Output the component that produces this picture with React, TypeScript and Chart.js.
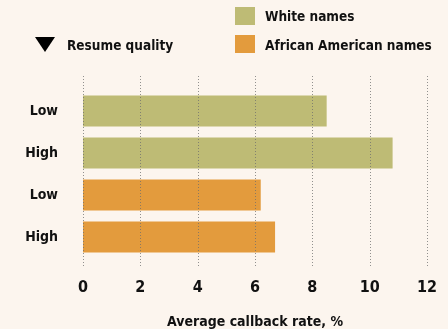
import React, { useEffect, useRef } from "react";
import { Chart, registerables } from "chart.js";

Chart.register(...registerables);

const categories = ["Low", "High", "Low", "High"];
const groups = ["White names", "White names", "African American names", "African American names"];
const callbackRates = [8.5, 10.8, 6.2, 6.7];
const xTicks = [0, 2, 4, 6, 8, 10, 12];
const legendItems = ["White names", "African American names"];
const legendMarker = "Resume quality";
const xTitle = "Average callback rate, %";

const WHITE = "#bebb75";
const ORANGE = "#e39b3d";
const BG = "#fcf5ee";
const FONT = "'DejaVu Sans Condensed', 'Liberation Sans Narrow', 'Liberation Sans', Arial, sans-serif";

const gridPlugin = {
  id: "dottedGrid",
  afterDatasetsDraw(chart: any) {
    const { ctx, scales } = chart;
    const x = scales.x;
    ctx.save();
    ctx.strokeStyle = "rgba(110,110,110,0.75)";
    ctx.lineWidth = 1;
    ctx.setLineDash([1, 2]);
    for (const t of xTicks) {
      const px = Math.round(x.getPixelForValue(t)) + 0.5;
      ctx.beginPath();
      ctx.moveTo(px, 76);
      ctx.lineTo(px, 268);
      ctx.stroke();
    }
    ctx.restore();
  },
};

export default function App() {
  const ref = useRef<HTMLCanvasElement>(null);
  useEffect(() => {
    document.body.style.margin = "0";
    document.body.style.background = BG;
    const colors = groups.map((g) => (g === legendItems[0] ? WHITE : ORANGE));
    const chart = new Chart(ref.current!, {
      type: "bar",
      data: {
        labels: categories,
        datasets: [
          {
            data: callbackRates,
            backgroundColor: colors,
            borderWidth: 0,
            categoryPercentage: 1,
            barPercentage: 0.74,
          },
        ],
      },
      options: {
        indexAxis: "y",
        animation: false,
        responsive: false,
        maintainAspectRatio: false,
        layout: { padding: { top: 90, right: 21, left: 0, bottom: 0 } },
        plugins: { legend: { display: false }, tooltip: { enabled: false } },
        scales: {
          x: {
            min: 0,
            max: 12,
            afterBuildTicks: (s: any) => {
              s.ticks = xTicks.map((v) => ({ value: v }));
            },
            afterFit: (s: any) => {
              s.height = 71;
              s.paddingLeft = 0;
              s.paddingRight = 0;
            },
            grid: { display: false, drawTicks: false },
            border: { display: false },
            ticks: {
              color: "#111",
              padding: 20,
              font: { family: FONT, size: 16, weight: "bold" },
            },
            title: {
              display: true,
              text: xTitle,
              color: "#111",
              padding: { top: 0, bottom: 0 },
              font: { family: FONT, size: 14, weight: "bold", lineHeight: 1 },
            },
          },
          y: {
            afterFit: (s: any) => {
              s.width = 83;
            },
            grid: { display: false, drawTicks: false },
            border: { display: false },
            ticks: {
              color: "#111",
              padding: 25,
              font: { family: FONT, size: 14, weight: "bold" },
            },
          },
        },
      },
      plugins: [gridPlugin],
    });
    return () => chart.destroy();
  }, []);

  const textStyle: React.CSSProperties = {
    position: "absolute",
    fontFamily: FONT,
    fontWeight: "bold",
    fontSize: 13.5,
    color: "#111",
    lineHeight: "18px",
    whiteSpace: "nowrap",
  };

  return (
    <div style={{ position: "relative", width: 448, height: 329, background: BG }}>
      <canvas ref={ref} width={448} height={329} style={{ display: "block" }} />
      <div
        style={{
          position: "absolute",
          left: 35,
          top: 37,
          width: 0,
          height: 0,
          borderLeft: "10px solid transparent",
          borderRight: "10px solid transparent",
          borderTop: "15px solid #000",
        }}
      />
      <div style={{ ...textStyle, left: 67, top: 36 }}>{legendMarker}</div>
      <div style={{ position: "absolute", left: 235, top: 7, width: 20, height: 18, background: WHITE }} />
      <div style={{ ...textStyle, left: 265, top: 7 }}>{legendItems[0]}</div>
      <div style={{ position: "absolute", left: 235, top: 35, width: 20, height: 18, background: ORANGE }} />
      <div style={{ ...textStyle, left: 265, top: 36 }}>{legendItems[1]}</div>
    </div>
  );
}
